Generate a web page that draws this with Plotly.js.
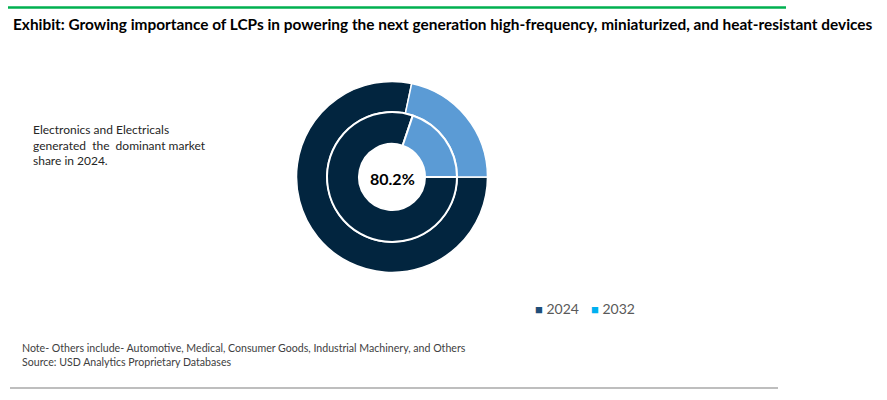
<!DOCTYPE html>
<html>
<head>
<meta charset="utf-8">
<script src="https://cdn.plot.ly/plotly-3.0.1.min.js"></script>
<style>html,body{margin:0;padding:0;background:#fff;}#chart{width:887px;height:400px;}</style>
</head>
<body>
<div id="chart"></div>
<script>
// Data
const segments = ["Electronics and Electricals", "Others"];
const inner2024 = [80.2, 19.8];
const outer2032 = [78.3, 21.7];
const legendNames = ["2024", "2032"];
const legendColors = ["#1f4e79", "#00b0f0"];
const centerLabel = "80.2%";

const navy = "#02253f";
const lightBlue = "#5b9bd5";
const W = 887, H = 400;
const cx = 392, cy = 177;
const rOuter = 95.5, rInner = 65;

function dom(r) {
  return {
    x: [(cx - r) / W, (cx + r) / W],
    y: [1 - (cy + r) / H, 1 - (cy - r) / H]
  };
}

const traces = [
  {
    type: "pie", labels: segments, values: outer2032, name: legendNames[1],
    domain: dom(rOuter), hole: 65 / rOuter, sort: false, direction: "clockwise", rotation: 90,
    marker: {colors: [navy, lightBlue], line: {color: "#ffffff", width: 1.5}},
    textinfo: "none", showlegend: false, hoverinfo: "label+value"
  },
  {
    type: "pie", labels: segments, values: inner2024, name: legendNames[0],
    domain: dom(rInner), hole: 33 / rInner, sort: false, direction: "clockwise", rotation: 90,
    marker: {colors: [navy, lightBlue], line: {color: "#ffffff", width: 2}},
    textinfo: "none", showlegend: false, hoverinfo: "label+value"
  }
];

const legendX = [533, 589];
const legendAnn = legendNames.map((n, i) => ({
  text: "<span style='color:" + legendColors[i] + ";font-size:13px'>■</span> " + n,
  x: legendX[i] / W, y: 1 - 308 / H, xref: "paper", yref: "paper", xanchor: "left", yanchor: "middle",
  showarrow: false, font: {family: "Lato, sans-serif", size: 14, color: "#595959"}
}));

const layout = {
  width: W, height: H,
  margin: {l: 0, r: 0, t: 0, b: 0},
  paper_bgcolor: "#ffffff", plot_bgcolor: "#ffffff",
  font: {family: "Lato, 'Open Sans', sans-serif", color: "#262626"},
  title: {
    text: "<b>Exhibit: Growing importance of LCPs in powering the next generation high-frequency, miniaturized, and heat-resistant devices</b>",
    x: 13 / W, xanchor: "left", xref: "paper",
    y: 1 - 25 / H, yanchor: "middle", yref: "container",
    font: {family: "Lato, sans-serif", size: 15.4, color: "#000000"}
  },
  showlegend: false,
  shapes: [
    {type: "line", xref: "paper", yref: "paper", x0: 8 / W, x1: 786 / W, y0: 1 - 7.5 / H, y1: 1 - 7.5 / H,
     line: {color: "#00b050", width: 2.5}},
    {type: "line", xref: "paper", yref: "paper", x0: 10 / W, x1: 778 / W, y0: 1 - 388 / H, y1: 1 - 388 / H,
     line: {color: "#7f7f7f", width: 1.2}}
  ],
  annotations: [
    {text: "<b>" + centerLabel + "</b>", x: cx / W, y: 1 - 178 / H, xref: "paper", yref: "paper",
     showarrow: false, font: {family: "Lato, sans-serif", size: 16, color: "#000000"}},
    {text: "Electronics and Electricals<br>generated  the  dominant market<br>share in 2024.",
     x: 31 / W, y: 1 - 120 / H, xref: "paper", yref: "paper", xanchor: "left", yanchor: "top", align: "left",
     showarrow: false, font: {family: "Lato, sans-serif", size: 12, color: "#262626"}},
    {text: "Note- Others include- Automotive, Medical, Consumer Goods, Industrial Machinery, and Others<br>Source: USD Analytics Proprietary Databases",
     x: 20 / W, y: 1 - 340 / H, xref: "paper", yref: "paper", xanchor: "left", yanchor: "top", align: "left",
     showarrow: false, font: {family: "Lato, sans-serif", size: 10.6, color: "#404040"}}
  ].concat(legendAnn)
};

Plotly.newPlot("chart", traces, layout, {displayModeBar: false, staticPlot: true});
</script>
</body>
</html>
